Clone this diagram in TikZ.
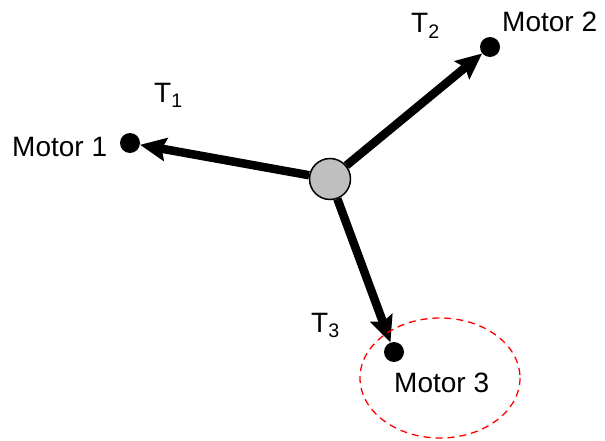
\documentclass[tikz,border=0pt]{standalone}
\usepackage{fontspec}
\setmainfont{Liberation Sans}
\usetikzlibrary{arrows.meta}

\begin{document}
\begin{tikzpicture}[x=1pt,y=-1pt,>={Stealth[length=26pt,width=23pt,inset=4pt]},
 dot/.style={circle,fill=black,inner sep=0pt,minimum size=20pt},
 force/.style={->,line width=8.5pt},
 lbl/.style={font=\fontsize{28}{31}\selectfont,inner sep=0pt,anchor=base west}]
\useasboundingbox (0,0) rectangle (605,441);
% motors and the hub
\node[circle,draw,fill=black!25,line width=1.5pt,minimum size=41pt,inner sep=0pt](hub)at(330,179){};
\node[dot](m1)at(130,143){};
\node[dot](m2)at(490,47){};
\node[dot](m3)at(394,352){};
\draw[force](hub)--(m1);\draw[force](hub)--(m2);\draw[force](hub)--(m3);
% labels
\node[lbl](l1)at(12,157){Motor 1};
\node[lbl](l2)at(502,32){Motor 2};
\node[lbl](l3)at(394,392){Motor 3};
\node[lbl](t1)at(154,103){T\textsubscript{1}};
\node[lbl](t2)at(411,33){T\textsubscript{2}};
\node[lbl](t3)at(311,332){T\textsubscript{3}};
\draw[red,line width=1.3pt,dash pattern=on 7pt off 5pt](440,378)ellipse[x radius=80,y radius=60];
\end{tikzpicture}
\end{document}
